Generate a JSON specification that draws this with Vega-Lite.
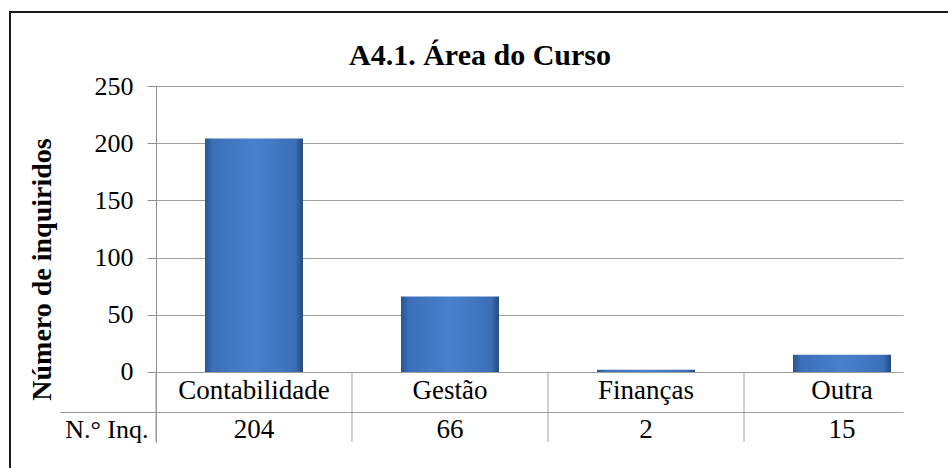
{
  "$schema": "https://vega.github.io/schema/vega-lite/v6.json",
  "width": 940,
  "height": 458,
  "autosize": {"type": "none"},
  "padding": {"left": 10, "top": 12, "right": -2, "bottom": -2},
  "background": "white",
  "view": {"stroke": "#1a1a1a", "strokeWidth": 2, "fill": "white"},
  "title": {
    "text": "A4.1. Área do Curso",
    "font": "Liberation Serif",
    "fontSize": 30,
    "fontWeight": "bold",
    "color": "#000000",
    "anchor": "middle",
    "frame": "group",
    "baseline": "alphabetic",
    "offset": -83
  },
  "data": {
    "values": [
      {"area": "Contabilidade", "n": 204},
      {"area": "Gestão", "n": 66},
      {"area": "Finanças", "n": 2},
      {"area": "Outra", "n": 15}
    ]
  },
  "encoding": {
    "x": {
      "field": "area",
      "type": "nominal",
      "sort": null,
      "axis": null,
      "scale": {"range": [146, 893], "paddingInner": 0.3776, "paddingOuter": 0.0943, "align": 1}
    }
  },
  "layer": [
    {
      "mark": {
        "type": "bar",
        "width": {"band": 0.8033},
        "color": {
          "gradient": "linear",
          "x1": 0, "x2": 1, "y1": 0, "y2": 0,
          "stops": [
            {"offset": 0, "color": "#2a5590"},
            {"offset": 0.08, "color": "#3b6fb8"},
            {"offset": 0.5, "color": "#4a80cc"},
            {"offset": 0.92, "color": "#3b6fb8"},
            {"offset": 1, "color": "#23497f"}
          ]
        }
      },
      "encoding": {
        "y": {
          "field": "n",
          "type": "quantitative",
          "scale": {"domain": [-61.19, 250], "range": [430, 74], "nice": false, "zero": false},
          "axis": {
            "values": [-50.7, -35, 0, 50, 100, 150, 200, 250],
            "labelExpr": "datum.value == -35 ? '' : (datum.value < -40 ? 'N.° Inq.' : datum.label)",
            "offset": -146,
            "grid": true,
            "gridColor": "#a0a0a0",
            "gridOpacity": {"condition": {"test": "datum.value < -40", "value": 0}, "value": 1},
            "domainColor": "#909090",
            "tickColor": "#909090",
            "tickSize": {"condition": {"test": "datum.value == -35", "value": 96}, "value": 9},
            "tickOpacity": {"condition": {"test": "datum.value < -40", "value": 0}, "value": 1},
            "labelPadding": {"condition": {"test": "datum.value < -40", "value": -1}, "value": 14},
            "labelFont": "Liberation Serif",
            "labelFontSize": 26,
            "labelColor": "#000000",
            "labelOverlap": false,
            "title": "Número de inquiridos",
            "titleFont": "Liberation Serif",
            "titleFontSize": 28,
            "titleFontWeight": "bold",
            "titleColor": "#000000",
            "titleX": -100,
            "titleY": 257
          }
        }
      }
    },
    {
      "mark": {"type": "rule", "color": "#a0a0a0", "strokeWidth": 1},
      "encoding": {
        "x": {"field": "area", "type": "nominal", "sort": null, "bandPosition": -0.3033},
        "y": {"datum": 0},
        "y2": {"datum": -61.19}
      }
    },
    {
      "mark": {"type": "text", "font": "Liberation Serif", "fontSize": 27, "color": "#000000", "baseline": "middle", "align": "center"},
      "encoding": {
        "y": {"datum": -16.6},
        "text": {"field": "area"}
      }
    },
    {
      "mark": {"type": "text", "font": "Liberation Serif", "fontSize": 27, "color": "#000000", "baseline": "middle", "align": "center"},
      "encoding": {
        "y": {"datum": -50.7},
        "text": {"field": "n"}
      }
    }
  ]
}
